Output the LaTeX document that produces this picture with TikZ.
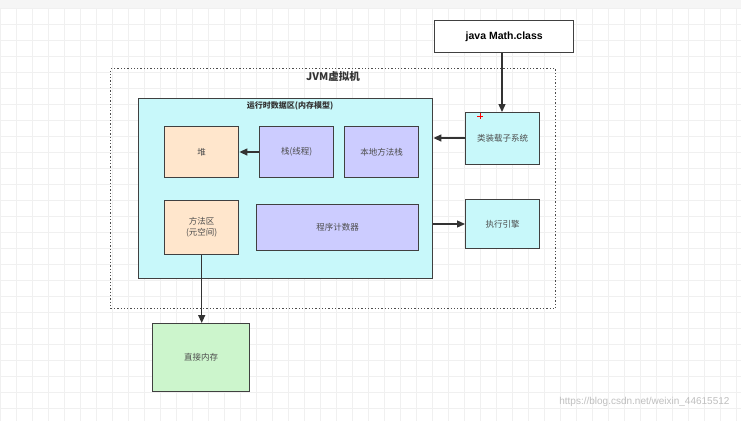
\documentclass[tikz,border=0pt]{standalone}
\usepackage{fontspec}
\setmainfont{Liberation Sans}
\newfontfamily\cjk{Noto Sans CJK SC}
\usetikzlibrary{arrows.meta}
\definecolor{cyanbg}{HTML}{C8F8FA}
\definecolor{peach}{HTML}{FFE6CC}
\definecolor{lav}{HTML}{CCCCFF}
\definecolor{mint}{HTML}{CCF5CC}
\begin{document}
\begin{tikzpicture}[x=1pt,y=-1pt,
  box/.style={draw=black!75,line width=1.4pt,inner sep=0pt,anchor=north west,align=center,font=\cjk\fontsize{8.5}{11}\selectfont,text=black!70},
  arr/.style={draw=black!80,line width=1.3pt,-{Triangle[length=8pt,width=7pt]}}]
\useasboundingbox (0,0) rectangle (741,421);
\fill[white] (0,0) rectangle (741,421);
\fill[black!4] (0,0) rectangle (741,8);
\foreach \i in {0,16,...,741} \draw[black!6,line width=0.4pt] (\i,8) -- (\i,421);
\foreach \j in {8,24,...,421} \draw[black!6,line width=0.4pt] (0,\j) -- (741,\j);
\node[box,fill=white,minimum width=139pt,minimum height=32pt,font=\bfseries\fontsize{10.5}{12}\selectfont,text=black] (math) at (434,20) {java Math.class};
\node[draw=black!70,dotted,line width=1.3pt,minimum width=445pt,minimum height=240pt,anchor=north west,inner sep=0pt] (jvm) at (110,68) {};
\node[font=\cjk\bfseries\fontsize{10.5}{12}\selectfont,text=black!80] (jvmt) at (333,77) {JVM虚拟机};
\node[box,fill=cyanbg,minimum width=294pt,minimum height=180pt] (rt) at (138,98) {};
\node[font=\cjk\bfseries\fontsize{8}{9}\selectfont,text=black!80] (rtt) at (290,106) {运行时数据区(内存模型)};
\node[box,fill=peach,minimum width=74pt,minimum height=51pt] (heap) at (164,126) {堆};
\node[box,fill=lav,minimum width=74pt,minimum height=51pt] (stack) at (259,126) {栈(线程)};
\node[box,fill=lav,minimum width=74pt,minimum height=51pt] (native) at (344,126) {本地方法栈};
\node[box,fill=cyanbg,minimum width=74pt,minimum height=52pt] (loader) at (465,112) {类装载子系统};
\node[box,fill=peach,minimum width=74pt,minimum height=54pt] (method) at (164,200) {方法区\\(元空间)};
\node[box,fill=lav,minimum width=162pt,minimum height=46pt] (pc) at (256,204) {程序计数器};
\node[box,fill=cyanbg,minimum width=74pt,minimum height=49pt] (exec) at (465,199) {执行引擎};
\node[box,fill=mint,minimum width=97pt,minimum height=68pt] (direct) at (152,323) {直接内存};
\draw[red,line width=0.8pt] (477,116) -- (483,116) (480,113) -- (480,119);
\draw[arr] (math.south -| 502,0) -- (loader.north -| 502,0);
\draw[arr] (loader.west |- 0,138) -- (rt.east |- 0,138);
\draw[arr] (stack.west |- 0,152) -- (heap.east |- 0,152);
\draw[arr] (rt.east |- 0,224) -- (exec.west |- 0,224);
\draw[arr] (method.south) -- (direct.north -| method.south);
\node[font=\fontsize{10}{12}\selectfont,text=black!25,anchor=east] (wm) at (733,402) {https://blog.csdn.net/weixin\_44615512};
\end{tikzpicture}
\end{document}
